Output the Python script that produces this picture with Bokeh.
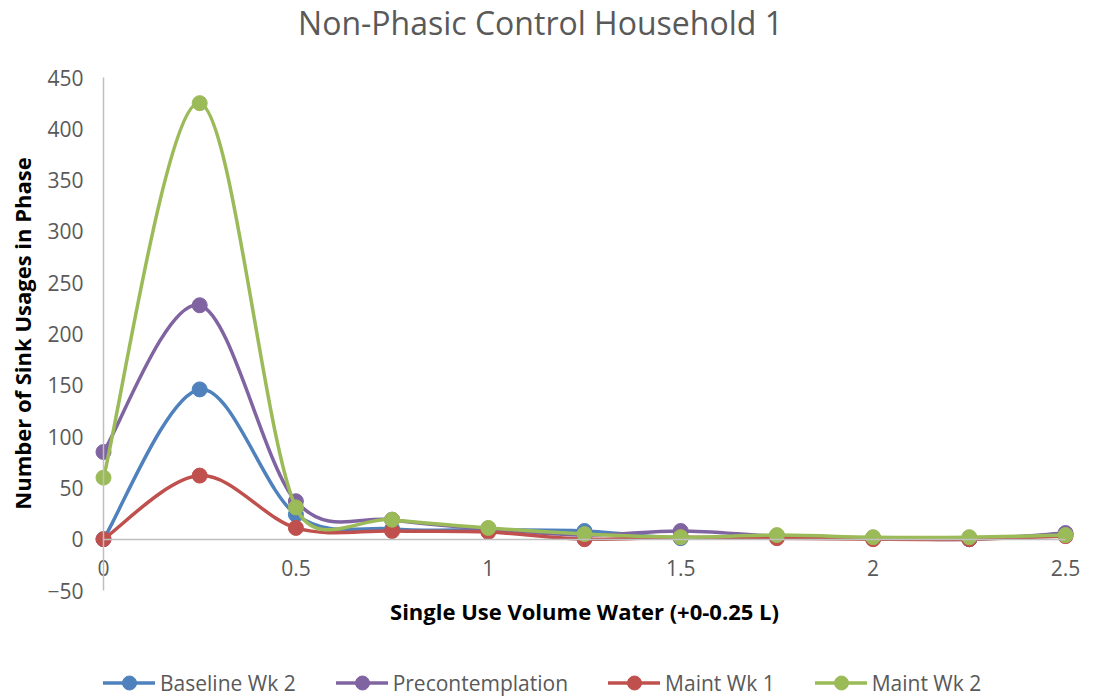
import numpy as np
from bokeh.plotting import figure
from bokeh.models import (Range1d, LinearAxis, Legend, LegendItem, Label,
                          FixedTicker, NumeralTickFormatter, ColumnDataSource)
from bokeh.embed import file_html
from bokeh.resources import INLINE

# ---------------- data ----------------
volume = [0, 0.25, 0.5, 0.75, 1.0, 1.25, 1.5, 1.75, 2.0, 2.25, 2.5]
baseline_wk2 = [0, 146, 24, 10, 9, 8, 1, 3, 1, 0, 5]
precontemplation = [85, 228, 37, 19, 10, 4, 8, 3, 1, 0, 6]
maint_wk1 = [0, 62, 11, 8, 7, 0, 2, 1, 0, 0, 3]
maint_wk2 = [60, 425, 31, 19, 11, 5, 2, 4, 2, 2, 4]

series_names = ["Baseline Wk 2", "Precontemplation", "Maint Wk 1", "Maint Wk 2"]
series_values = [baseline_wk2, precontemplation, maint_wk1, maint_wk2]
series_colors = ["#4F81BD", "#8064A2", "#C0504D", "#9BBB59"]

x_ticks = [0, 0.5, 1, 1.5, 2, 2.5]
y_ticks = [-50, 0, 50, 100, 150, 200, 250, 300, 350, 400, 450]

title_text = "Non-Phasic Control Household 1"
x_title = "Single Use Volume Water (+0-0.25 L)"
y_title = "Number of Sink Usages in Phase"

FONT = "Open Sans"
GREY_TEXT = "#595959"
AXIS_GREY = "#BFBFBF"

W, H = 1095, 696

# The frame covers the whole canvas; ranges chosen so that the value
# area (0..2.5, -50..450) sits where the original plot area was.
x_px0, x_px1 = 103.0, 1065.0      # pixel of x=0 and x=2.5
y_px_top, y_px_bot = 77.0, 590.0  # pixel of y=450 and y=-50
SX = (x_px1 - x_px0) / 2.5
SY = (y_px_bot - y_px_top) / 500.0
x_start = -x_px0 / SX
x_end = (W - x_px0) / SX
y_end = 450 + y_px_top / SY
y_start = -50 - (H - y_px_bot) / SY


def smooth_segments(xs, ys):
    """Bezier control points like Excel's 'smoothed line' (computed in
    screen space, tangent length limited to half the segment)."""
    x = np.asarray(xs, float) * SX
    y = np.asarray(ys, float) * SY
    n = len(x)
    P = np.column_stack([x, y])
    P = np.vstack([P[:1], P, P[-1:]])
    out = {k: [] for k in ("x0", "y0", "x1", "y1", "cx0", "cy0", "cx1", "cy1")}
    for i in range(1, n):
        p0, p1, p2, p3 = P[i - 1], P[i], P[i + 1], P[i + 2]
        d12 = np.hypot(*(p2 - p1))
        d02 = np.hypot(*(p2 - p0))
        d13 = np.hypot(*(p3 - p1))
        f1 = 1.0 / 6.0 if d02 / 6.0 < d12 / 2.0 else (d12 / 2.0) / d02
        f2 = 1.0 / 6.0 if d13 / 6.0 < d12 / 2.0 else (d12 / 2.0) / d13
        c1 = p1 + (p2 - p0) * f1
        c2 = p2 - (p3 - p1) * f2
        out["x0"].append(p1[0] / SX); out["y0"].append(p1[1] / SY)
        out["x1"].append(p2[0] / SX); out["y1"].append(p2[1] / SY)
        out["cx0"].append(c1[0] / SX); out["cy0"].append(c1[1] / SY)
        out["cx1"].append(c2[0] / SX); out["cy1"].append(c2[1] / SY)
    return out


p = figure(width=W, height=H,
           x_range=Range1d(x_start, x_end), y_range=Range1d(y_start, y_end),
           min_border=0, toolbar_location=None, output_backend="svg",
           x_axis_type=None, y_axis_type=None)
p.outline_line_color = None
p.xgrid.visible = False
p.ygrid.visible = False
p.title.visible = False

# axes (fixed at the zero lines, drawn inside the canvas frame)
xaxis = LinearAxis(fixed_location=0, bounds=(0, 2.5),
                   ticker=FixedTicker(ticks=x_ticks),
                   formatter=NumeralTickFormatter(format="0.[0]"))
yaxis = LinearAxis(fixed_location=0, bounds=(-50, 450),
                   ticker=FixedTicker(ticks=y_ticks))
for ax in (xaxis, yaxis):
    ax.axis_line_color = AXIS_GREY
    ax.axis_line_width = 1.5
    ax.major_tick_line_color = None
    ax.minor_tick_line_color = None
    ax.major_tick_in = 0
    ax.major_tick_out = 0
    ax.major_label_text_font = FONT
    ax.major_label_text_font_size = "21px"
    ax.major_label_text_color = GREY_TEXT
xaxis.major_label_standoff = 21
yaxis.major_label_standoff = 20
p.add_layout(xaxis, "below")
p.add_layout(yaxis, "left")

items = []
for name, vals, col in zip(series_names, series_values, series_colors):
    src = ColumnDataSource(smooth_segments(volume, vals))
    bz = p.bezier(x0="x0", y0="y0", x1="x1", y1="y1",
                  cx0="cx0", cy0="cy0", cx1="cx1", cy1="cy1",
                  source=src, line_color=col, line_width=3.5,
                  line_cap="round")
    sc = p.scatter(volume, vals, size=15, marker="circle",
                   fill_color=col, line_color=col, line_width=1)
    items.append(LegendItem(label=name, renderers=[bz, sc]))

legend = Legend(items=items, orientation="horizontal",
                location=(103, -4), margin=0, padding=0,
                glyph_width=52, glyph_height=35, label_standoff=5,
                spacing=40, border_line_color=None,
                background_fill_alpha=0,
                label_text_font=FONT, label_text_font_size="21px",
                label_text_color=GREY_TEXT)
p.add_layout(legend)

# titles (screen units: x from left, y from bottom of the canvas)
p.add_layout(Label(x=540, y=H - 22, x_units="screen", y_units="screen",
                   text=title_text, text_align="center",
                   text_baseline="middle", text_font=FONT,
                   text_font_size="32px", text_color=GREY_TEXT))
p.add_layout(Label(x=584, y=H - 610, x_units="screen", y_units="screen",
                   text=x_title, text_align="center",
                   text_baseline="middle", text_font=FONT,
                   text_font_size="22px", text_font_style="bold",
                   text_color="#000000"))
p.add_layout(Label(x=21, y=H - 333, x_units="screen", y_units="screen",
                   text=y_title, text_align="center", angle=np.pi / 2,
                   text_baseline="middle", text_font=FONT,
                   text_font_size="22px", text_font_style="bold",
                   text_color="#000000"))

open("out.html", "w").write(file_html(p, INLINE))
